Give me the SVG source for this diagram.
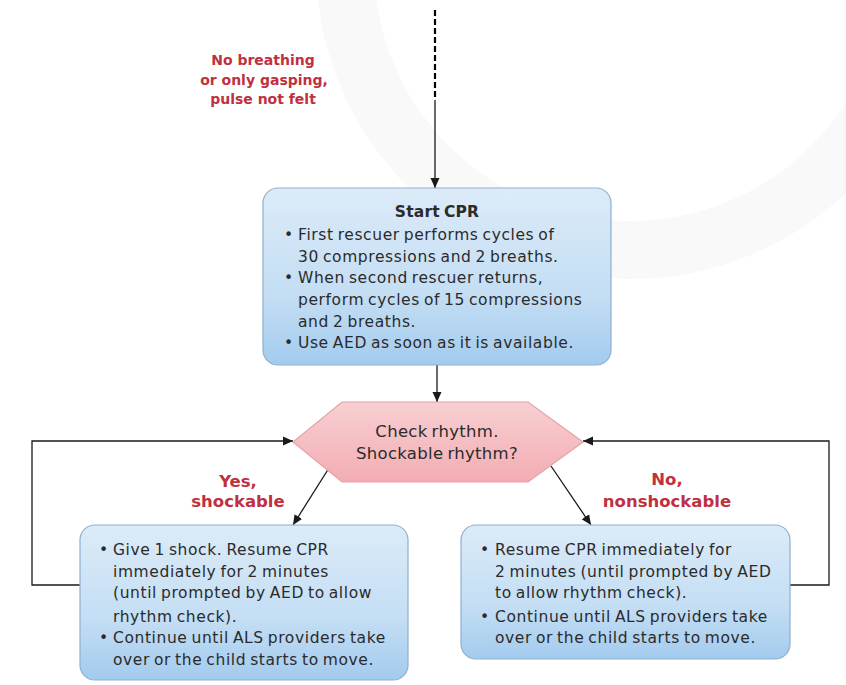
<svg xmlns="http://www.w3.org/2000/svg" width="846" height="685" viewBox="0 0 846 685">
<defs>
<linearGradient id="gBlue" x1="0" y1="0" x2="0" y2="1">
<stop offset="0" stop-color="#dcebf8"/>
<stop offset="0.6" stop-color="#c4def4"/>
<stop offset="1" stop-color="#a3cbee"/>
</linearGradient>
<linearGradient id="gPink" x1="0" y1="0" x2="0" y2="1">
<stop offset="0" stop-color="#f8cfd2"/>
<stop offset="1" stop-color="#f2adb3"/>
</linearGradient>
<marker id="arr" viewBox="0 0 10 10" refX="10" refY="5" markerWidth="10" markerHeight="10" markerUnits="userSpaceOnUse" orient="auto">
<path d="M0,0.5 L10,5 L0,9.5 Z" fill="#1a1a1a"/>
</marker>
<style>
.box{fill:url(#gBlue);stroke:#8eb0cd;stroke-width:1.2}
.hex{fill:url(#gPink);stroke:#e3a3a9;stroke-width:1.2}
.t{font-family:"DejaVu Sans",Inter,sans-serif;font-size:15.5px;fill:#2b2b2b;letter-spacing:0.6px;word-spacing:-1.5px}
.b{font-weight:700}
.red{font-family:"DejaVu Sans",Inter,sans-serif;font-size:14px;font-weight:700;fill:#c0303f;text-anchor:middle}
.red2{font-family:"DejaVu Sans",Inter,sans-serif;font-size:16.5px;font-weight:700;fill:#c0303f;text-anchor:middle}
.c{text-anchor:middle}
.ln{fill:none;stroke:#1a1a1a;stroke-width:1.3}
</style>
</defs>
<rect width="846" height="685" fill="#ffffff"/>
<circle cx="630" cy="-35" r="285" fill="none" stroke="#f9f9f9" stroke-width="58"/>

<g id="connectors">
<path d="M435,10 V100" fill="none" stroke="#000" stroke-width="2.2" stroke-dasharray="6,3"/>
<path class="ln" d="M435,100 V188" marker-end="url(#arr)"/>
<path class="ln" d="M437,365 V402" marker-end="url(#arr)"/>
<path class="ln" d="M329,468 L293,525" marker-end="url(#arr)"/>
<path class="ln" d="M551,466 L591,525" marker-end="url(#arr)"/>
<path class="ln" d="M80,585 H32 V441 H293" marker-end="url(#arr)"/>
<path class="ln" d="M790,585 H829 V441 H583" marker-end="url(#arr)"/>
</g>

<g id="label-start">
<text class="red" x="263" y="65">No breathing</text>
<text class="red" x="264" y="85">or only gasping,</text>
<text class="red" x="263" y="104">pulse not felt</text>
</g>

<g id="node-start-cpr">
<rect class="box" x="263" y="188" width="348" height="177" rx="15"/>
<text class="t b c" x="437" y="217" style="letter-spacing:0.2px">Start CPR</text>
<text class="t" x="284" y="240">•</text>
<text class="t" x="298" y="240">First rescuer performs cycles of</text>
<text class="t" x="298" y="262">30 compressions and 2 breaths.</text>
<text class="t" x="284" y="283">•</text>
<text class="t" x="298" y="283">When second rescuer returns,</text>
<text class="t" x="298" y="305">perform cycles of 15 compressions</text>
<text class="t" x="298" y="327">and 2 breaths.</text>
<text class="t" x="284" y="348">•</text>
<text class="t" x="298" y="348">Use AED as soon as it is available.</text>
</g>

<g id="node-check-rhythm">
<polygon class="hex" points="293,442 342,402 528,402 583,442 528,482 342,482"/>
<text class="t c" x="437" y="437" style="font-size:16.5px;letter-spacing:0.3px">Check rhythm.</text>
<text class="t c" x="437" y="459" style="font-size:16.5px;letter-spacing:0.3px">Shockable rhythm?</text>
</g>

<g id="label-yes">
<text class="red2" x="238" y="487">Yes,</text>
<text class="red2" x="238" y="507">shockable</text>
</g>
<g id="label-no">
<text class="red2" x="667" y="485">No,</text>
<text class="red2" x="667" y="507">nonshockable</text>
</g>

<g id="node-shock">
<rect class="box" x="80" y="525" width="328" height="155" rx="15"/>
<text class="t" x="99" y="555">•</text>
<text class="t" x="113" y="555">Give 1 shock. Resume CPR</text>
<text class="t" x="113" y="577">immediately for 2 minutes</text>
<text class="t" x="113" y="598">(until prompted by AED to allow</text>
<text class="t" x="113" y="622">rhythm check).</text>
<text class="t" x="99" y="643">•</text>
<text class="t" x="113" y="643">Continue until ALS providers take</text>
<text class="t" x="113" y="665">over or the child starts to move.</text>
</g>

<g id="node-noshock">
<rect class="box" x="461" y="525" width="329" height="134" rx="15"/>
<text class="t" x="480" y="555">•</text>
<text class="t" x="495" y="555">Resume CPR immediately for</text>
<text class="t" x="495" y="577">2 minutes (until prompted by AED</text>
<text class="t" x="495" y="598">to allow rhythm check).</text>
<text class="t" x="480" y="622">•</text>
<text class="t" x="495" y="622">Continue until ALS providers take</text>
<text class="t" x="495" y="643">over or the child starts to move.</text>
</g>
</svg>
